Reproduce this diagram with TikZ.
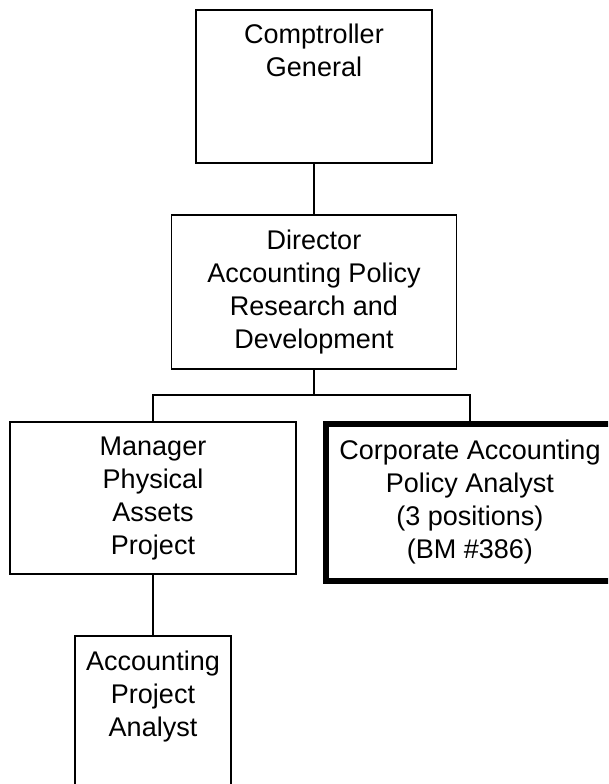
\documentclass[tikz,border=0pt]{standalone}
\usepackage{fontspec}
\setmainfont{Liberation Sans}
\begin{document}
\begin{tikzpicture}[x=1pt,y=-1pt,
  orgbox/.style={draw=black, line width=1.8pt, fill=white, align=center,
    inner sep=0pt, font=\fontsize{27}{33}\selectfont},
  heavybox/.style={orgbox, line width=6pt},
  link/.style={draw=black, line width=1.8pt}]
\clip (0,0) rectangle (608,784);
\fill[white] (0,0) rectangle (608,784);
\node[orgbox, minimum width=236pt, minimum height=153pt] (cg) at (314,86.5)
  {\strut Comptroller\\\strut General\\\strut\\\strut};
\node[orgbox, minimum width=285pt, minimum height=154pt] (dir) at (314,292)
  {\strut Director\\\strut Accounting Policy\\\strut Research and\\\strut Development};
\node[orgbox, minimum width=286pt, minimum height=152pt] (mgr) at (153,498)
  {\strut Manager\\\strut Physical\\\strut Assets\\\strut Project};
\node[heavybox, minimum width=288pt, minimum height=157pt] (cap) at (470,502.5)
  {\strut Corporate Accounting\\\strut Policy Analyst\\\strut (3 positions)\\\strut (BM \#386)};
\node[orgbox, minimum width=156pt, minimum height=154pt] (ana) at (153,713)
  {\strut Accounting\\\strut Project\\\strut Analyst\\\strut};
\coordinate (bus) at (314,395);
\draw[link] (cg.south) -- (dir.north);
\draw[link] (dir.south) -- (bus);
\draw[link] (bus) -| (mgr.north);
\draw[link] (bus) -| (cap.north);
\draw[link] (mgr.south) -- (ana.north);
\end{tikzpicture}
\end{document}
